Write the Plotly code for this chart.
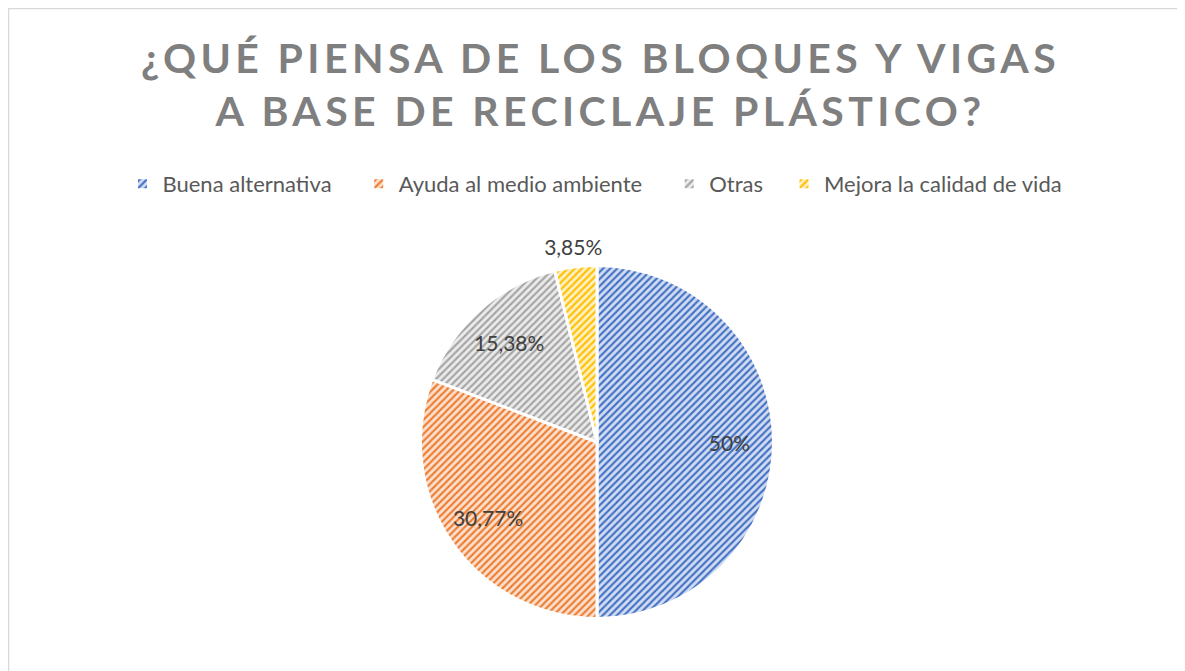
import plotly.graph_objects as go

categories = ["Buena alternativa", "Ayuda al medio ambiente", "Otras", "Mejora la calidad de vida"]
values = [13, 8, 4, 1]
labels_text = ["50%", "30,77%", "15,38%", "3,85%"]
outer_label = [False, False, False, True]  # labels drawn just outside the pie
fg_colors = ["#4472c4", "#ed7d31", "#a5a5a5", "#ffc000"]
bg_colors = ["#d2dcf2", "#fbe0cf", "#ebebeb", "#fff0c4"]

W, H = 1185, 671
cx, cy, r = 589, 434, 176.5
r_out = 212
legend_pad = [22, 22, 16, 0]  # extra px after each legend label


def spaced_label(name, pad):
    if pad <= 0:
        return name
    return name[:-1] + '<span style="letter-spacing:%dpx">%s</span>' % (pad, name[-1])


def dom(rad):
    return dict(x=[(cx - rad) / W, (cx + rad) / W], y=[1 - (cy + rad) / H, 1 - (cy - rad) / H])


legend_labels = [spaced_label(c, p) for c, p in zip(categories, legend_pad)]
inner_text = [("" if o else t) for t, o in zip(labels_text, outer_label)]
outer_text = [(t if o else "") for t, o in zip(labels_text, outer_label)]

fig = go.Figure()
fig.add_trace(go.Pie(
    labels=legend_labels,
    values=values,
    customdata=categories,
    textinfo="none",
    sort=False,
    direction="clockwise",
    rotation=0,
    marker=dict(
        colors=bg_colors,
        line=dict(color="white", width=3),
        pattern=dict(shape="/", fgcolor=fg_colors, bgcolor=bg_colors,
                     size=5, solidity=0.42, fillmode="replace"),
    ),
    domain=dom(r),
    hovertemplate="%{customdata}: %{percent}<extra></extra>",
))
# transparent rings used only to place the percentage labels
label_font = dict(family="Lato", size=21, color="#404040")
for txt, rad, hole in [(inner_text, r, 0.5), (outer_text, r_out, 0.86)]:
    fig.add_trace(go.Pie(
        labels=legend_labels,
        values=values,
        text=txt,
        textinfo="text",
        texttemplate="%{text}",
        textposition="inside",
        insidetextorientation="horizontal",
        textfont=label_font,
        hole=hole,
        sort=False,
        direction="clockwise",
        rotation=0,
        showlegend=False,
        marker=dict(colors=["rgba(0,0,0,0)"] * 4, line=dict(width=0)),
        domain=dom(rad),
        hoverinfo="skip",
    ))

title_text = ('<span style="letter-spacing:4.4px">¿QUÉ PIENSA DE LOS BLOQUES Y VIGAS</span><br>'
              '<span style="letter-spacing:4.4px">A BASE DE RECICLAJE PLÁSTICO?</span>')

fig.update_layout(
    width=W, height=H,
    margin=dict(l=0, r=0, t=0, b=0),
    paper_bgcolor="white",
    uniformtext=dict(minsize=21, mode="show"),
    title=dict(
        text=title_text,
        x=0.5, xanchor="center", xref="paper",
        y=1 - 65 / H, yanchor="top", yref="container",
        font=dict(family="Lato", size=41, color="#7f7f7f", weight="bold"),
    ),
    legend=dict(
        orientation="h", x=587 / W, xanchor="center", y=1 - 176 / H, yanchor="middle",
        font=dict(family="Lato", size=22, color="#595959"),
        traceorder="normal",
    ),
    shapes=[dict(type="rect", xref="paper", yref="paper",
                 x0=0.5 / W, x1=1175.5 / W, y0=-0.05, y1=1 - 0.5 / H,
                 line=dict(color="#d9d9d9", width=1.5), fillcolor="rgba(0,0,0,0)")],
)

fig.write_html("out.html")
